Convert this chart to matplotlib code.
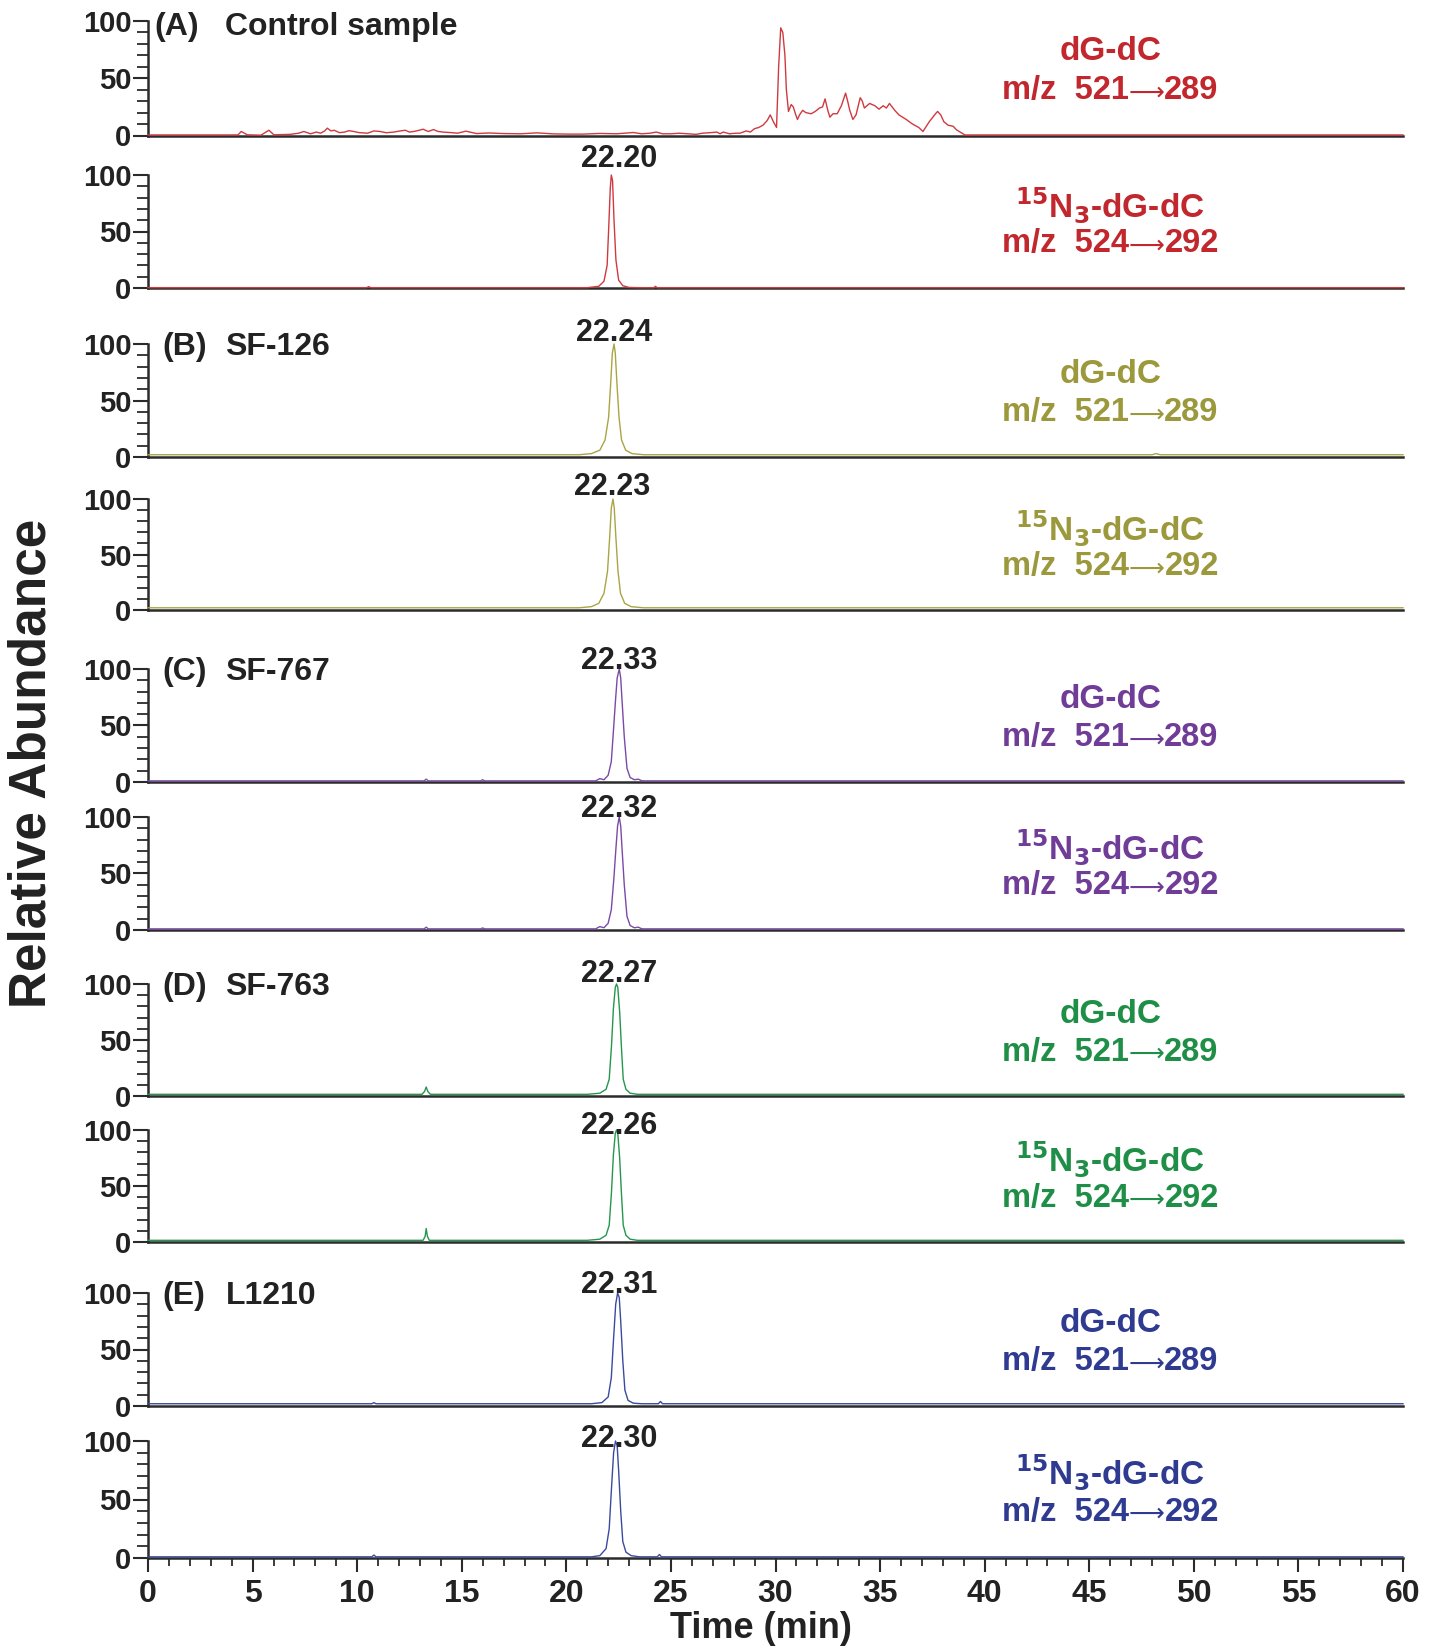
import matplotlib.pyplot as plt
from matplotlib.ticker import MultipleLocator
from matplotlib.offsetbox import TextArea, HPacker, AnnotationBbox

# ---- data (time in min, relative abundance) ----
a1_t = [0, 4.3, 4.46, 4.75, 5.4, 5.78, 6.02, 6.8, 7.2, 7.45, 7.77, 8.05, 8.25, 8.45, 8.57,
        8.75, 8.9, 9.15, 9.4, 9.6, 9.84, 10.1, 10.5, 10.8, 11.1, 11.4, 11.75, 12.0, 12.3,
        12.5, 12.7, 12.95, 13.15, 13.4, 13.65, 13.85, 14.1, 14.5, 14.8, 15.2, 15.7, 16.3,
        17.0, 17.8, 18.6, 19.4, 20.2, 20.8, 21.6, 22.4, 23.2, 23.6, 24.0, 24.3, 24.6, 25.0,
        25.4, 25.8, 26.2, 26.5, 26.9, 27.2, 27.35, 27.5, 27.8, 28.1, 28.3, 28.6, 28.8, 29.0,
        29.2, 29.4, 29.6, 29.75, 29.9, 30.05, 30.15, 30.25, 30.35, 30.45, 30.52, 30.62,
        30.75, 30.85, 30.95, 31.05, 31.15, 31.3, 31.45, 31.7, 31.9, 32.1, 32.25, 32.37,
        32.5, 32.6, 32.75, 32.95, 33.15, 33.35, 33.45, 33.55, 33.7, 33.85, 34.05, 34.15,
        34.25, 34.5, 34.75, 34.95, 35.15, 35.3, 35.45, 35.7, 35.9, 36.25, 36.55, 36.85,
        37.05, 37.35, 37.65, 37.75, 37.9, 38.05, 38.25, 38.5, 38.65, 39.05, 60]
a1_y = [0.5, 0.5, 3.5, 0.6, 0.3, 4.6, 0.6, 1, 2, 3.5, 1.5, 3, 2, 4, 6.4,
        4, 4.6, 2.5, 3, 4.2, 3.5, 2.5, 2, 4, 3.5, 2.4, 3, 3.8, 4.6,
        3, 3.5, 4.5, 5.5, 3.5, 5.2, 3.6, 3, 2.5, 2, 3.8, 1.7, 2.2,
        1.7, 1.5, 2.3, 1.4, 1.2, 1.2, 1.8, 1.5, 2.6, 1.5, 2, 3, 1.5, 1.5,
        2, 1.5, 1, 2, 2.5, 3, 1.5, 3, 1.5, 2, 2, 4, 3, 6,
        7, 9, 13, 18, 12, 7, 60, 94, 90, 70, 40, 21,
        27, 25, 19, 14, 18, 22, 20, 19, 21, 24, 25, 32,
        22, 16, 19, 19, 26, 37, 30, 22, 14, 18, 33, 30,
        24, 28, 26, 23, 26, 24, 28, 22, 18, 14, 10, 7,
        3.5, 12, 19, 21, 18, 12, 9, 8, 5, 0.5, 0.5]

a2_t = [0, 10.45, 10.55, 10.65, 21.0, 21.55, 21.8, 21.95, 22.03, 22.1, 22.15, 22.21,
        22.28, 22.37, 22.5, 22.7, 23.0, 23.4, 24.2, 24.25, 24.35, 60]
a2_y = [0.3, 0.3, 1.2, 0.3, 0.3, 1.5, 6, 20, 55, 88, 100, 95,
        60, 25, 7, 2, 0.5, 0.3, 0.3, 1.5, 0.3, 0.3]

b1_t = [0, 20.6, 21.2, 21.6, 21.85, 22.02, 22.12, 22.2, 22.28, 22.34, 22.42, 22.52,
        22.64, 22.84, 23.14, 23.7, 48.0, 48.2, 48.4, 60]
b1_y = [2, 2, 3, 6, 15, 35, 65, 92, 100, 92, 65, 35, 15, 6, 3, 2, 2, 3, 2, 2]

b2_t = [0, 20.6, 21.2, 21.55, 21.8, 21.97, 22.07, 22.15, 22.23, 22.29, 22.37, 22.47,
        22.59, 22.79, 23.1, 23.7, 60]
b2_y = [2, 2, 3, 6, 15, 35, 65, 92, 100, 92, 65, 35, 15, 6, 3, 2, 2]

c1_t = [0, 13.2, 13.3, 13.4, 15.9, 16.0, 16.1, 21.4, 21.6, 21.8, 22.0, 22.15, 22.25,
        22.35, 22.43, 22.53, 22.6, 22.67, 22.77, 22.9, 23.05, 23.25, 23.45, 23.55, 23.65, 60]
c1_y = [1, 1, 2.5, 1, 1, 2, 1, 1, 3, 2, 6, 18, 45, 72, 92, 100, 92, 70, 40, 12, 4, 2,
        2.5, 1.5, 1, 1]

c2_t = [0, 13.2, 13.3, 13.4, 15.9, 16.0, 16.1, 21.4, 21.6, 21.8, 22.0, 22.15, 22.27,
        22.37, 22.45, 22.53, 22.6, 22.67, 22.77, 22.9, 23.05, 23.25, 23.45, 23.55, 23.65, 60]
c2_y = [1, 1, 2.5, 1, 1, 1.8, 1, 1, 3, 2, 6, 18, 45, 72, 92, 100, 92, 70, 40, 12, 4, 2,
        2.5, 1.5, 1, 1]

d1_t = [0, 13.1, 13.22, 13.3, 13.38, 13.5, 21.0, 21.6, 21.9, 22.05, 22.16, 22.25, 22.34,
        22.4, 22.46, 22.55, 22.63, 22.72, 22.85, 23.05, 23.4, 60]
d1_y = [1.5, 1.5, 4, 8, 4, 1.5, 1.5, 2.5, 6, 15, 45, 78, 97, 100, 97, 75, 45, 15, 6, 2.5,
        1.5, 1.5]

d2_t = [0, 13.15, 13.25, 13.3, 13.36, 13.45, 21.0, 21.6, 21.9, 22.05, 22.16, 22.25, 22.34,
        22.4, 22.46, 22.55, 22.63, 22.72, 22.85, 23.05, 23.4, 60]
d2_y = [1.5, 1.5, 5, 12, 5, 1.5, 1.5, 2.5, 6, 15, 45, 78, 97, 100, 97, 75, 45, 15, 6, 2.5,
        1.5, 1.5]

e1_t = [0, 10.7, 10.8, 10.9, 21.2, 21.7, 22.0, 22.15, 22.26, 22.36, 22.45, 22.53, 22.6,
        22.7, 22.8, 22.95, 23.2, 23.6, 24.4, 24.5, 24.6, 60]
e1_y = [2, 2, 3, 2, 2, 3, 8, 25, 60, 90, 100, 96, 75, 40, 14, 5, 2.5, 2, 2, 4, 2, 2]

e2_t = [0, 10.7, 10.8, 10.9, 21.2, 21.6, 21.9, 22.05, 22.16, 22.26, 22.35, 22.43, 22.5,
        22.6, 22.7, 22.85, 23.1, 23.5, 24.35, 24.45, 24.55, 60]
e2_y = [1, 1, 2.5, 1, 1, 2, 8, 25, 60, 90, 100, 96, 75, 40, 14, 5, 2, 1, 1, 3, 1, 1]

traces_t = [a1_t, a2_t, b1_t, b2_t, c1_t, c2_t, d1_t, d2_t, e1_t, e2_t]
traces_y = [a1_y, a2_y, b1_y, b2_y, c1_y, c2_y, d1_y, d2_y, e1_y, e2_y]

peak_labels = [None, '22.20', '22.24', '22.23', '22.33', '22.32', '22.27', '22.26', '22.31', '22.30']
sample_tags = ['(A)', '(B)', '(C)', '(D)', '(E)']
sample_names = ['Control sample', 'SF-126', 'SF-767', 'SF-763', 'L1210']
compounds = ['dG-dC', r'$\mathbf{^{15}}$N$\mathbf{_3}$-dG-dC']
mz_from = ['521', '524']
mz_to = ['289', '292']

# ---- layout / style ----
W, H = 1434, 1646
ax_left, ax_right = 148, 1403
rows = [(21, 135.5), (175, 288), (344, 457), (499, 610), (669, 782),
        (817, 930), (984, 1096), (1130, 1242), (1293, 1406), (1441, 1558)]
label_x = [None, 22.53, 22.28, 22.18, 22.53, 22.53, 22.51, 22.51, 22.51, 22.53]
label_y = [None, 114, 110, 111, 107, 107, 109, 104, 107, 102]
line_cols = ['#cf3a40', '#a9a545', '#7a4aa6', '#24964e', '#3a4a9e']
text_cols = ['#c1272d', '#9c983c', '#6f3c98', '#1f8f48', '#2e3b90']
dark = '#222222'

plt.rcParams['font.family'] = ['Liberation Sans Narrow', 'Liberation Sans', 'DejaVu Sans']
plt.rcParams['font.weight'] = 'bold'
plt.rcParams['mathtext.fontset'] = 'custom'
plt.rcParams['mathtext.rm'] = 'Liberation Sans Narrow:bold'
plt.rcParams['mathtext.bf'] = 'Liberation Sans Narrow:bold'
plt.rcParams['mathtext.it'] = 'Liberation Sans Narrow:bold'

fig = plt.figure(figsize=(W / 100, H / 100), dpi=100)
axc = '#2b2b2b'


def mz_label(ax, k, j):
    tp = dict(fontsize=23.5, fontweight='bold', color=text_cols[k])
    ap = dict(fontsize=18, fontweight='normal', color=text_cols[k], family='DejaVu Sans')
    box = HPacker(children=[TextArea('m/z  ' + mz_from[j], textprops=tp),
                            TextArea('\u27f6', textprops=ap),
                            TextArea(mz_to[j], textprops=tp)],
                  sep=0, pad=0, align='baseline')
    ab = AnnotationBbox(box, (46.0, 39), xycoords='data', frameon=False,
                        box_alignment=(0.5, 0.5), pad=0, annotation_clip=False)
    ax.add_artist(ab)


for i, (top, bot) in enumerate(rows):
    ax = fig.add_axes([ax_left / W, 1 - bot / H, (ax_right - ax_left) / W, (bot - top) / H])
    k = i // 2
    ax.plot(traces_t[i], traces_y[i], color=line_cols[k], lw=1.0, clip_on=False, zorder=3)
    ax.set_xlim(0, 60)
    ax.set_ylim(0, 100)
    for s in ['top', 'right']:
        ax.spines[s].set_visible(False)
    for s in ['left', 'bottom']:
        ax.spines[s].set_color(axc)
        ax.spines[s].set_linewidth(1.8)
    ax.yaxis.set_major_locator(MultipleLocator(50))
    ax.yaxis.set_minor_locator(MultipleLocator(10))
    ax.tick_params(axis='y', which='major', length=11, width=1.5, color=axc,
                   labelsize=21, pad=1, labelcolor=dark)
    ax.tick_params(axis='y', which='minor', length=8, width=1.3, color=axc)
    for lab in ax.get_yticklabels():
        lab.set_fontweight('bold')
    if i == len(rows) - 1:
        ax.xaxis.set_major_locator(MultipleLocator(5))
        ax.xaxis.set_minor_locator(MultipleLocator(1))
        ax.tick_params(axis='x', which='major', length=10, width=1.5, color=axc,
                       labelsize=23, pad=5, labelcolor=dark)
        ax.tick_params(axis='x', which='minor', length=6, width=1.3, color=axc)
        for lab in ax.get_xticklabels():
            lab.set_fontweight('bold')
    else:
        ax.set_xticks([])

    # sample tag on first trace of each pair
    if i % 2 == 0:
        ty = 95 if i == 0 else 97
        tx = 0.3 if i == 0 else 0.7
        ax.text(tx, ty, sample_tags[k], fontsize=23, fontweight='bold', color=dark,
                va='center', ha='left')
        ax.text(3.7, ty, sample_names[k], fontsize=23, fontweight='bold', color=dark,
                va='center', ha='left')

    if peak_labels[i] is not None:
        ax.text(label_x[i], label_y[i], peak_labels[i], fontsize=22, fontweight='bold',
                color=dark, ha='center', va='center')

    ax.text(46.0, 73, compounds[i % 2], fontsize=24, fontweight='bold', color=text_cols[k],
            ha='center', va='center')
    mz_label(ax, k, i % 2)

fig.text(32 / W, 1 - 763 / H, 'Relative Abundance', rotation=90, fontsize=37,
         fontweight='bold', color=dark, ha='center', va='center')
fig.text(761 / W, 1 - 1628 / H, 'Time (min)', fontsize=26, fontweight='bold',
         color=dark, ha='center', va='center')

fig.savefig('out.png', dpi=100, facecolor='white')
